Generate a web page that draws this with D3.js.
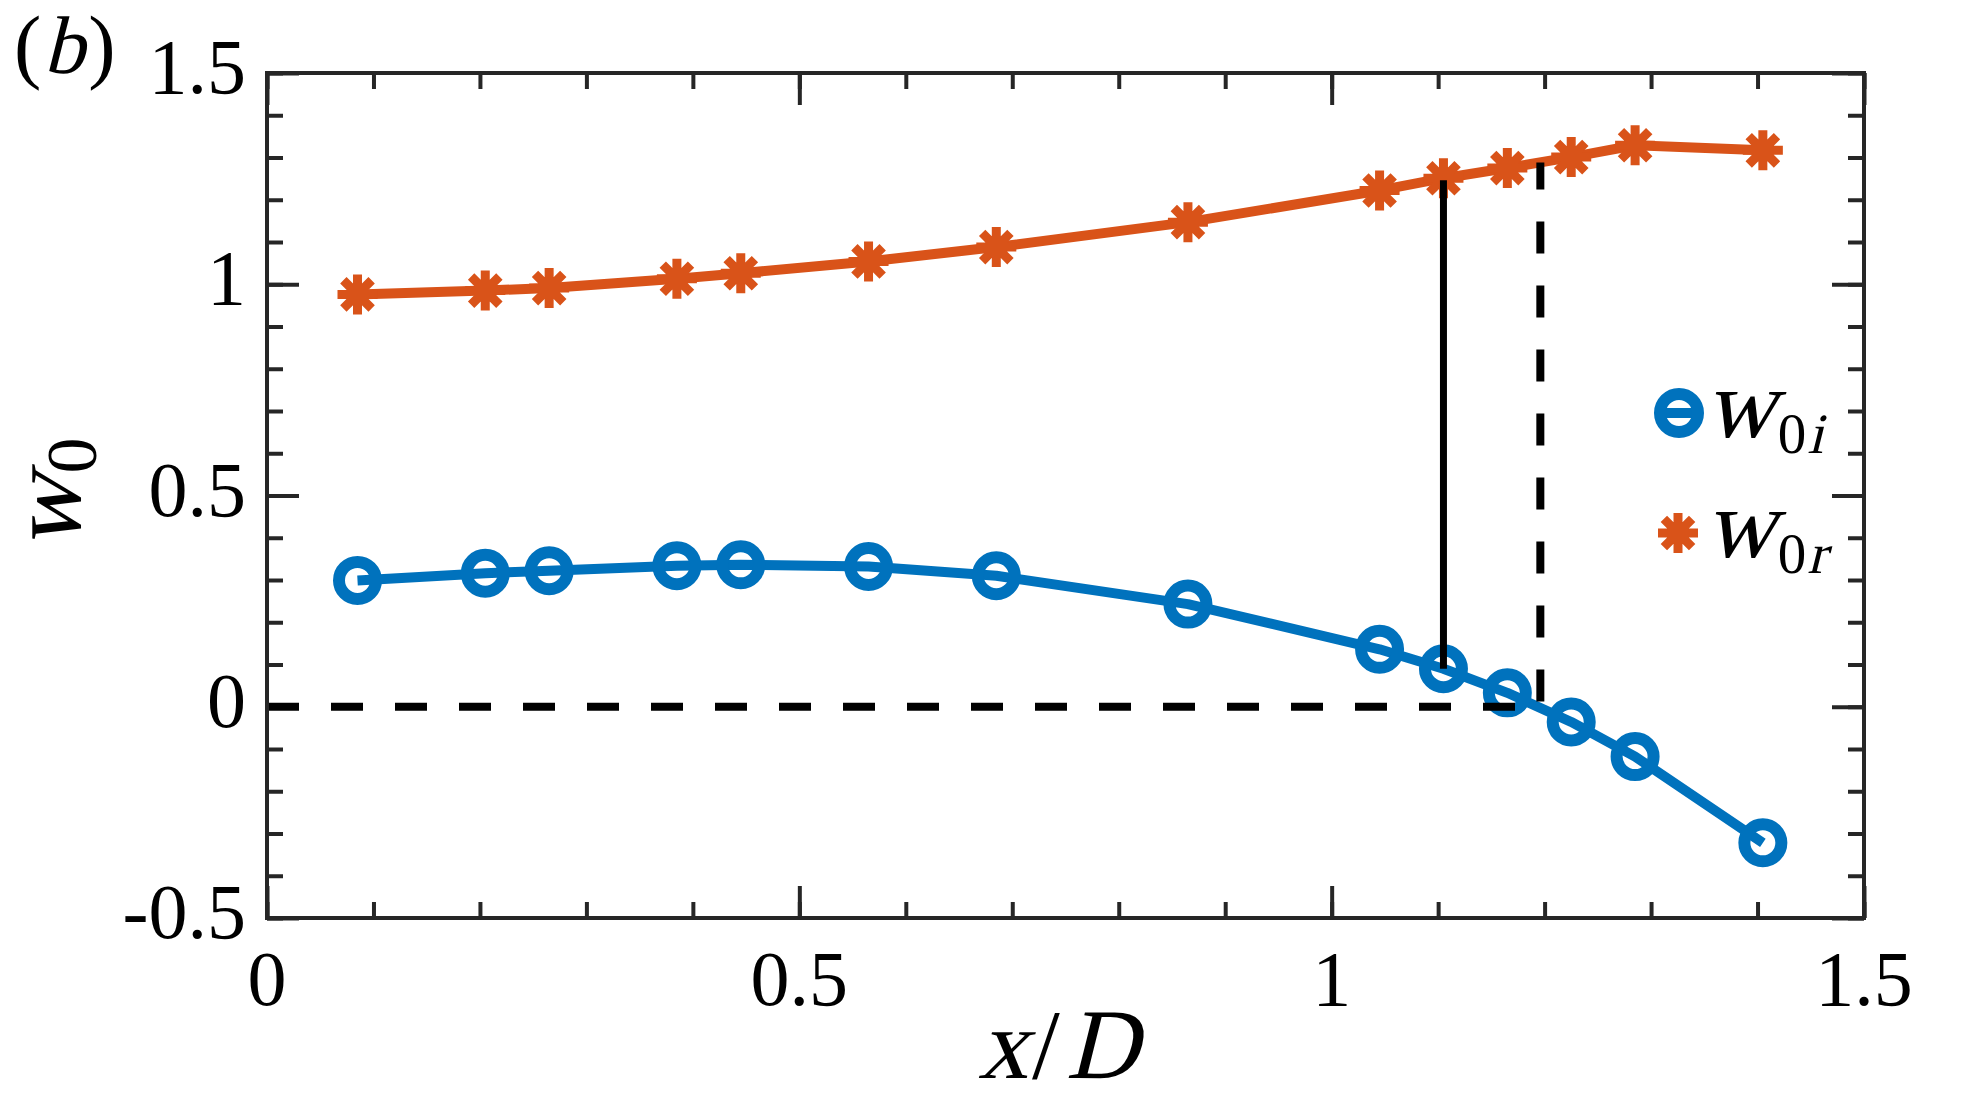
<!DOCTYPE html>
<html>
<head>
<meta charset="utf-8">
<script src="https://cdn.jsdelivr.net/npm/d3@7"></script>
<style>
  html, body { margin: 0; padding: 0; background: #fff; }
  svg { display: block; }
  text { font-family: "Liberation Serif", "Times New Roman", serif; fill: #000; }
</style>
</head>
<body>
<svg id="chart" width="1967" height="1112"></svg>
<script>
// ---------------- data ----------------
const xPos = [0.085, 0.205, 0.265, 0.385, 0.445, 0.565, 0.685, 0.865, 1.045, 1.105, 1.165, 1.225, 1.285, 1.405];
const w0i  = [0.299, 0.316, 0.322, 0.334, 0.336, 0.332, 0.310, 0.243, 0.136, 0.090, 0.033, -0.036, -0.118, -0.322];
const w0r  = [0.976, 0.985, 0.991, 1.013, 1.026, 1.054, 1.088, 1.147, 1.222, 1.251, 1.275, 1.301, 1.329, 1.317];
const xTicks = [0, 0.5, 1, 1.5];
const xTickLabels = ["0", "0.5", "1", "1.5"];
const yTicks = [-0.5, 0, 0.5, 1, 1.5];
const yTickLabels = ["-0.5", "0", "0.5", "1", "1.5"];
const xMinor = d3.range(0, 1.5001, 0.1);
const yMinor = d3.range(-0.5, 1.5001, 0.1);
// reference lines
const solidLineIndex = 9;      // vertical solid line at x = 1.105
const zeroCrossX = 1.196;      // vertical dashed line position
const zeroCrossTop = 1.288;    // dashed line top (on w0r curve)

// ---------------- layout ----------------
const svg = d3.select("#chart");
const L = 267, R = 1864, T = 73, B = 918;
const x = d3.scaleLinear().domain([0, 1.5]).range([L, R]);
const y = d3.scaleLinear().domain([-0.5, 1.5]).range([B, T]);
const axisColor = "#262626";
const blue = "#0072BD", orange = "#D95319";

// ---------------- ticks (inward, box on) ----------------
function tickGroup(axisFn, scale, vals, size, transform) {
  const g = svg.append("g").attr("transform", transform)
    .call(axisFn(scale).tickValues(vals).tickSize(size).tickFormat(""));
  g.select(".domain").remove();
  g.selectAll(".tick line").attr("stroke", axisColor).attr("stroke-width", 4);
  return g;
}
tickGroup(d3.axisBottom, x, xMinor, -16, `translate(0,${B})`);
tickGroup(d3.axisBottom, x, xTicks, -32, `translate(0,${B})`);
tickGroup(d3.axisTop, x, xMinor, -16, `translate(0,${T})`);
tickGroup(d3.axisTop, x, xTicks, -32, `translate(0,${T})`);
tickGroup(d3.axisLeft, y, yMinor, -16, `translate(${L},0)`);
tickGroup(d3.axisLeft, y, yTicks, -32, `translate(${L},0)`);
tickGroup(d3.axisRight, y, yMinor, -16, `translate(${R},0)`);
tickGroup(d3.axisRight, y, yTicks, -32, `translate(${R},0)`);

// ---------------- tick labels ----------------
svg.append("g").selectAll("text").data(xTicks).join("text")
  .attr("x", d => x(d)).attr("y", 1005)
  .attr("text-anchor", "middle").attr("font-size", 78)
  .attr("fill", "#262626")
  .text((d, i) => xTickLabels[i]);
svg.append("g").selectAll("text").data(yTicks).join("text")
  .attr("x", 246).attr("y", d => y(d) + 20)
  .attr("text-anchor", "end").attr("font-size", 78)
  .attr("fill", "#262626")
  .text((d, i) => yTickLabels[i]);

// ---------------- series ----------------
const pts = xPos.map((xv, i) => ({ x: xv, i: w0i[i], r: w0r[i] }));
const lineI = d3.line().x(d => x(d.x)).y(d => y(d.i));
const lineR = d3.line().x(d => x(d.x)).y(d => y(d.r));

svg.append("path").datum(pts).attr("d", lineI)
  .attr("fill", "none").attr("stroke", blue).attr("stroke-width", 10).attr("stroke-linejoin", "round");
svg.append("g").selectAll("circle").data(pts).join("circle")
  .attr("cx", d => x(d.x)).attr("cy", d => y(d.i)).attr("r", 18.5)
  .attr("fill", "none").attr("stroke", blue).attr("stroke-width", 12);

svg.append("path").datum(pts).attr("d", lineR)
  .attr("fill", "none").attr("stroke", orange).attr("stroke-width", 10).attr("stroke-linejoin", "round");
const ar = 20, ad = ar * Math.SQRT1_2;
const astPath = `M${-ar},0L${ar},0M0,${-ar}L0,${ar}M${-ad},${-ad}L${ad},${ad}M${-ad},${ad}L${ad},${-ad}`;
svg.append("g").selectAll("path").data(pts).join("path")
  .attr("transform", d => `translate(${x(d.x)},${y(d.r)})`)
  .attr("d", astPath).attr("fill", "none").attr("stroke", orange).attr("stroke-width", 9);

// ---------------- reference lines ----------------
svg.append("line")
  .attr("x1", x(xPos[solidLineIndex])).attr("x2", x(xPos[solidLineIndex]))
  .attr("y1", y(w0i[solidLineIndex])).attr("y2", y(w0r[solidLineIndex]) + 2)
  .attr("stroke", "#000").attr("stroke-width", 7);
svg.append("line")
  .attr("x1", x(0)).attr("x2", x(zeroCrossX))
  .attr("y1", y(0)).attr("y2", y(0))
  .attr("stroke", "#000").attr("stroke-width", 8).attr("stroke-dasharray", "32,32");
svg.append("line")
  .attr("x1", x(zeroCrossX)).attr("x2", x(zeroCrossX))
  .attr("y1", y(zeroCrossTop)).attr("y2", y(0))
  .attr("stroke", "#000").attr("stroke-width", 8)
  .attr("stroke-dasharray", "32,32").attr("stroke-dashoffset", 5);

// ---------------- box ----------------
svg.append("rect").attr("x", L).attr("y", T).attr("width", R - L).attr("height", B - T)
  .attr("fill", "none").attr("stroke", axisColor).attr("stroke-width", 4);

// ---------------- math-like text (slanted serif for variables) ----------------
// parts: {t, it (italic), fs (font-size), dy (baseline offset), dx (spacing before), after (spacing after)}
function mathText(parent, tx, ty, anchor, parts, transformExtra) {
  const g = parent.append("g");
  const inner = g.append("g");
  let cursor = 0;
  parts.forEach(p => {
    cursor += p.dx || 0;
    const holder = inner.append("g")
      .attr("transform", `translate(${cursor},${p.dy || 0})` + (p.it ? " skewX(-14)" : ""));
    const t = holder.append("text").attr("font-size", p.fs).text(p.t);
    cursor += t.node().getComputedTextLength() + (p.after || 0);
  });
  const shift = anchor === "middle" ? -cursor / 2 : anchor === "end" ? -cursor : 0;
  inner.attr("transform", `translate(${shift},0)`);
  g.attr("transform", `translate(${tx},${ty})` + (transformExtra || ""));
  return g;
}

// ---------------- legend ----------------
const leg = svg.append("g");
leg.append("line").attr("x1", 1657).attr("x2", 1701).attr("y1", 413).attr("y2", 413)
  .attr("stroke", blue).attr("stroke-width", 10);
leg.append("circle").attr("cx", 1679).attr("cy", 413).attr("r", 19)
  .attr("fill", "none").attr("stroke", blue).attr("stroke-width", 12);
leg.append("path").attr("transform", "translate(1678,533)")
  .attr("d", astPath).attr("fill", "none").attr("stroke", orange).attr("stroke-width", 9);

mathText(leg, 1705, 437, "start", [
  { t: "w", it: true, fs: 98, after: 2 },
  { t: "0", fs: 57, dy: 16 },
  { t: "i", it: true, fs: 57, dy: 16, dx: 1 }
]);
mathText(leg, 1705, 557, "start", [
  { t: "w", it: true, fs: 98, after: 2 },
  { t: "0", fs: 57, dy: 16 },
  { t: "r", it: true, fs: 57, dy: 16, dx: 1 }
]);

// ---------------- axis labels ----------------
mathText(svg, 1058, 1078, "middle", [
  { t: "x", it: true, fs: 100, after: 4 },
  { t: "/", fs: 100, after: 6 },
  { t: "D", it: true, fs: 100 }
]);

mathText(svg, 80, 494, "middle", [
  { t: "w", it: true, fs: 104, after: 2 },
  { t: "0", fs: 72, dy: 16 }
], " rotate(-90)");

mathText(svg, 14, 73, "start", [
  { t: "(", fs: 82, after: 2 },
  { t: "b", it: true, fs: 82, after: 4 },
  { t: ")", fs: 82 }
]);
</script>
</body>
</html>
